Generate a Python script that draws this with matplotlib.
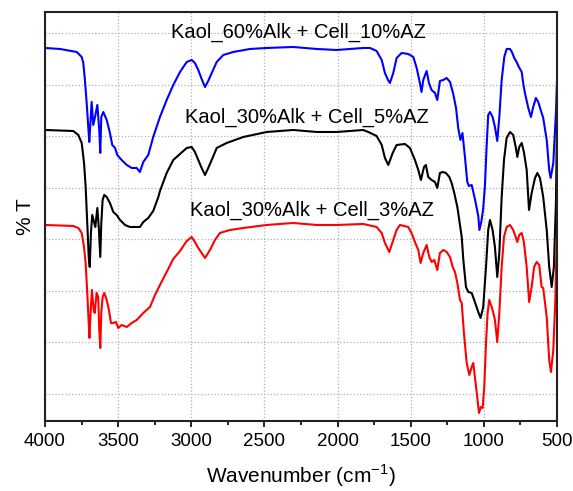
"""
FTIR spectra of kaolinite / alkali / cellulose azo-dye composites.
Transmittance curves are offset (arbitrary units), wavenumber axis reversed.
"""

import numpy as np
import matplotlib
matplotlib.use('Agg')
import matplotlib.pyplot as plt

plt.rcParams['font.family'] = ['Liberation Sans', 'DejaVu Sans']
plt.rcParams['mathtext.fontset'] = 'custom'
plt.rcParams['mathtext.rm'] = 'Liberation Sans'

# Kaol_60%Alk + Cell_10%AZ (blue)
wn_blue = [4000, 3897, 3783, 3749, 3738, 3727, 3715, 3704, 3697, 3681, 3670, 3658, 3642, 3629,
           3622, 3615, 3601, 3578, 3556, 3540, 3521, 3506, 3476, 3441, 3407, 3373, 3351, 3328,
           3294, 3260, 3214, 3168, 3123, 3077, 3031, 2997, 2975, 2952, 2929, 2906, 2884, 2860,
           2826, 2781, 2713, 2599, 2484, 2303, 2143, 2006, 1824, 1778, 1733, 1698, 1676, 1655,
           1642, 1619, 1596, 1562, 1517, 1482, 1459, 1437, 1426, 1414, 1391, 1375, 1357, 1334,
           1318, 1300, 1277, 1254, 1231, 1209, 1190, 1175, 1160, 1146, 1129, 1113, 1102, 1083,
           1061, 1038, 1030, 1016, 1004, 992, 982, 970, 958, 940, 924, 908, 894, 878, 860, 844,
           821, 808, 792, 776, 760, 741, 729, 719, 696, 678, 662, 644, 628, 611, 594, 570, 553,
           543, 525, 507, 500]
T_blue = [373, 372, 369, 364, 358, 341, 318, 294, 279, 319, 296, 304, 316, 291,
          268, 304, 309, 301, 288, 276, 273, 266, 261, 256, 253, 253, 249, 259,
          266, 284, 304, 321, 336, 349, 359, 361, 358, 351, 342, 334, 340, 348,
          359, 366, 369, 372, 373, 374, 372, 371, 373, 373, 370, 361, 348, 341,
          338, 348, 363, 368, 367, 364, 353, 338, 329, 341, 350, 338, 331, 328,
          321, 340, 341, 343, 339, 327, 313, 293, 281, 288, 264, 239, 235, 236,
          222, 205, 191, 200, 213, 236, 271, 306, 309, 304, 294, 280, 304, 341, 364, 372,
          372, 369, 363, 359, 354, 349, 336, 328, 313, 304, 314, 323, 319, 311, 303, 281, 251,
          243, 258, 308, 339]

# Kaol_30%Alk + Cell_5%AZ (black)
wn_black = [4000, 3807, 3772, 3749, 3733, 3722, 3711, 3701, 3694, 3686, 3677, 3665, 3656, 3642,
            3631, 3622, 3615, 3606, 3595, 3578, 3556, 3533, 3510, 3487, 3453, 3419, 3351, 3328,
            3294, 3260, 3225, 3214, 3168, 3123, 3077, 3031, 2997, 2975, 2952, 2929, 2906, 2884,
            2860, 2826, 2758, 2644, 2484, 2303, 2143, 2006, 1824, 1790, 1733, 1698, 1676, 1653,
            1623, 1596, 1539, 1505, 1471, 1448, 1430, 1409, 1396, 1380, 1357, 1334, 1318, 1300,
            1281, 1259, 1236, 1220, 1202, 1181, 1168, 1151, 1140, 1122, 1106, 1083, 1061, 1038,
            1022, 1004, 985, 970, 958, 940, 924, 908, 894, 878, 862, 844, 821, 799, 782, 771,
            758, 741, 726, 707, 691, 673, 650, 634, 616, 594, 570, 553, 536, 521, 507, 500]
T_black = [291, 290, 286, 278, 258, 234, 198, 164, 154, 188, 206, 199, 194, 213,
           191, 164, 198, 221, 226, 224, 218, 209, 206, 201, 196, 194, 194, 199,
           203, 210, 224, 230, 248, 261, 267, 273, 274, 269, 261, 253, 246, 253,
           261, 273, 278, 284, 289, 291, 289, 289, 291, 289, 285, 276, 263, 256,
           268, 276, 277, 273, 261, 251, 241, 254, 256, 244, 241, 239, 233, 248,
           249, 248, 244, 238, 228, 214, 201, 184, 161, 134, 129, 128, 119, 109,
           103, 114, 154, 191, 201, 191, 174, 144, 168, 224, 261, 283, 289, 286, 274, 264,
           274, 278, 269, 251, 211, 228, 243, 248, 243, 224, 191, 154, 134, 154, 218, 296]

# Kaol_30%Alk + Cell_3%AZ (red)
wn_red = [4000, 3807, 3772, 3749, 3733, 3722, 3711, 3701, 3696, 3686, 3679, 3667, 3660, 3647,
          3636, 3629, 3622, 3615, 3606, 3595, 3578, 3563, 3549, 3533, 3515, 3499, 3476, 3441,
          3407, 3373, 3328, 3282, 3248, 3214, 3168, 3123, 3077, 3031, 2997, 2975, 2952, 2929,
          2906, 2872, 2838, 2804, 2735, 2644, 2484, 2303, 2143, 2006, 1824, 1733, 1698, 1676,
          1646, 1619, 1596, 1573, 1517, 1494, 1471, 1448, 1432, 1414, 1391, 1373, 1357, 1339,
          1318, 1300, 1277, 1254, 1231, 1213, 1197, 1181, 1163, 1151, 1136, 1117, 1099, 1083,
          1072, 1061, 1045, 1033, 1020, 1008, 997, 985, 974, 963, 946, 935, 924, 908, 894, 878,
          862, 844, 821, 799, 782, 771, 758, 741, 726, 707, 690, 673, 656, 639, 621, 605, 594,
          570, 553, 541, 525, 511, 502, 500]
T_red = [196, 195, 193, 188, 174, 158, 128, 98, 83, 114, 131, 111, 108, 128,
         124, 91, 73, 108, 124, 128, 121, 111, 98, 98, 99, 93, 96, 94,
         98, 101, 108, 114, 126, 136, 149, 162, 170, 180, 184, 179, 173, 168,
         163, 171, 181, 188, 191, 193, 196, 198, 196, 196, 197, 194, 188, 178,
         169, 181, 191, 196, 194, 188, 179, 171, 158, 168, 176, 164, 159, 161,
         151, 168, 171, 169, 164, 154, 149, 138, 121, 118, 88, 58, 46, 54,
         58, 44, 24, 8, 14, 13, 34, 78, 108, 121, 114, 108, 101, 79, 108, 154,
         184, 194, 196, 191, 184, 179, 186, 188, 179, 154, 119, 134, 154, 159, 156, 134, 133,
         104, 61, 49, 71, 121, 181, 191]

labels = ['Kaol_60%Alk + Cell_10%AZ', 'Kaol_30%Alk + Cell_5%AZ', 'Kaol_30%Alk + Cell_3%AZ']
label_pos = [(2267, 389), (2212, 304), (2178, 211)]

fig = plt.figure(figsize=(5.73, 4.91), dpi=100)
ax = fig.add_axes([0.0785, 0.1426, 0.8935, 0.833])

ax.plot(wn_blue, T_blue, color='#0000ff', lw=1.5)
ax.plot(wn_black, T_black, color='black', lw=1.5)
ax.plot(wn_red, T_red, color='#ff0000', lw=1.5)

for txt, (x, y) in zip(labels, label_pos):
    ax.text(x, y, txt, fontsize=14.5, ha='center', va='center')

ax.set_xlim(4000, 500)
ax.set_ylim(0, 409)
ax.set_xticks(np.arange(4000, 499, -500))
ax.set_xticks(np.arange(3750, 500, -500), minor=True)
ax.set_yticks(np.arange(27, 400, 51.5))
ax.tick_params(axis='x', which='major', direction='out', length=4.5, width=1.2,
               labelsize=13.5, pad=4)
ax.tick_params(axis='x', which='minor', direction='out', length=3, width=1.2)
ax.tick_params(axis='y', length=0, labelleft=False)
ax.grid(True, which='major', linestyle=':', color='#b0b0b0', lw=0.9)
for s in ax.spines.values():
    s.set_linewidth(1.5)
    s.set_color('#222222')

ax.set_xlabel('Wavenumber (cm$^{\\mathregular{-1}}$)', fontsize=15, labelpad=9)
ax.set_ylabel('% T', fontsize=15, labelpad=7)

fig.savefig('out.png', dpi=100)
